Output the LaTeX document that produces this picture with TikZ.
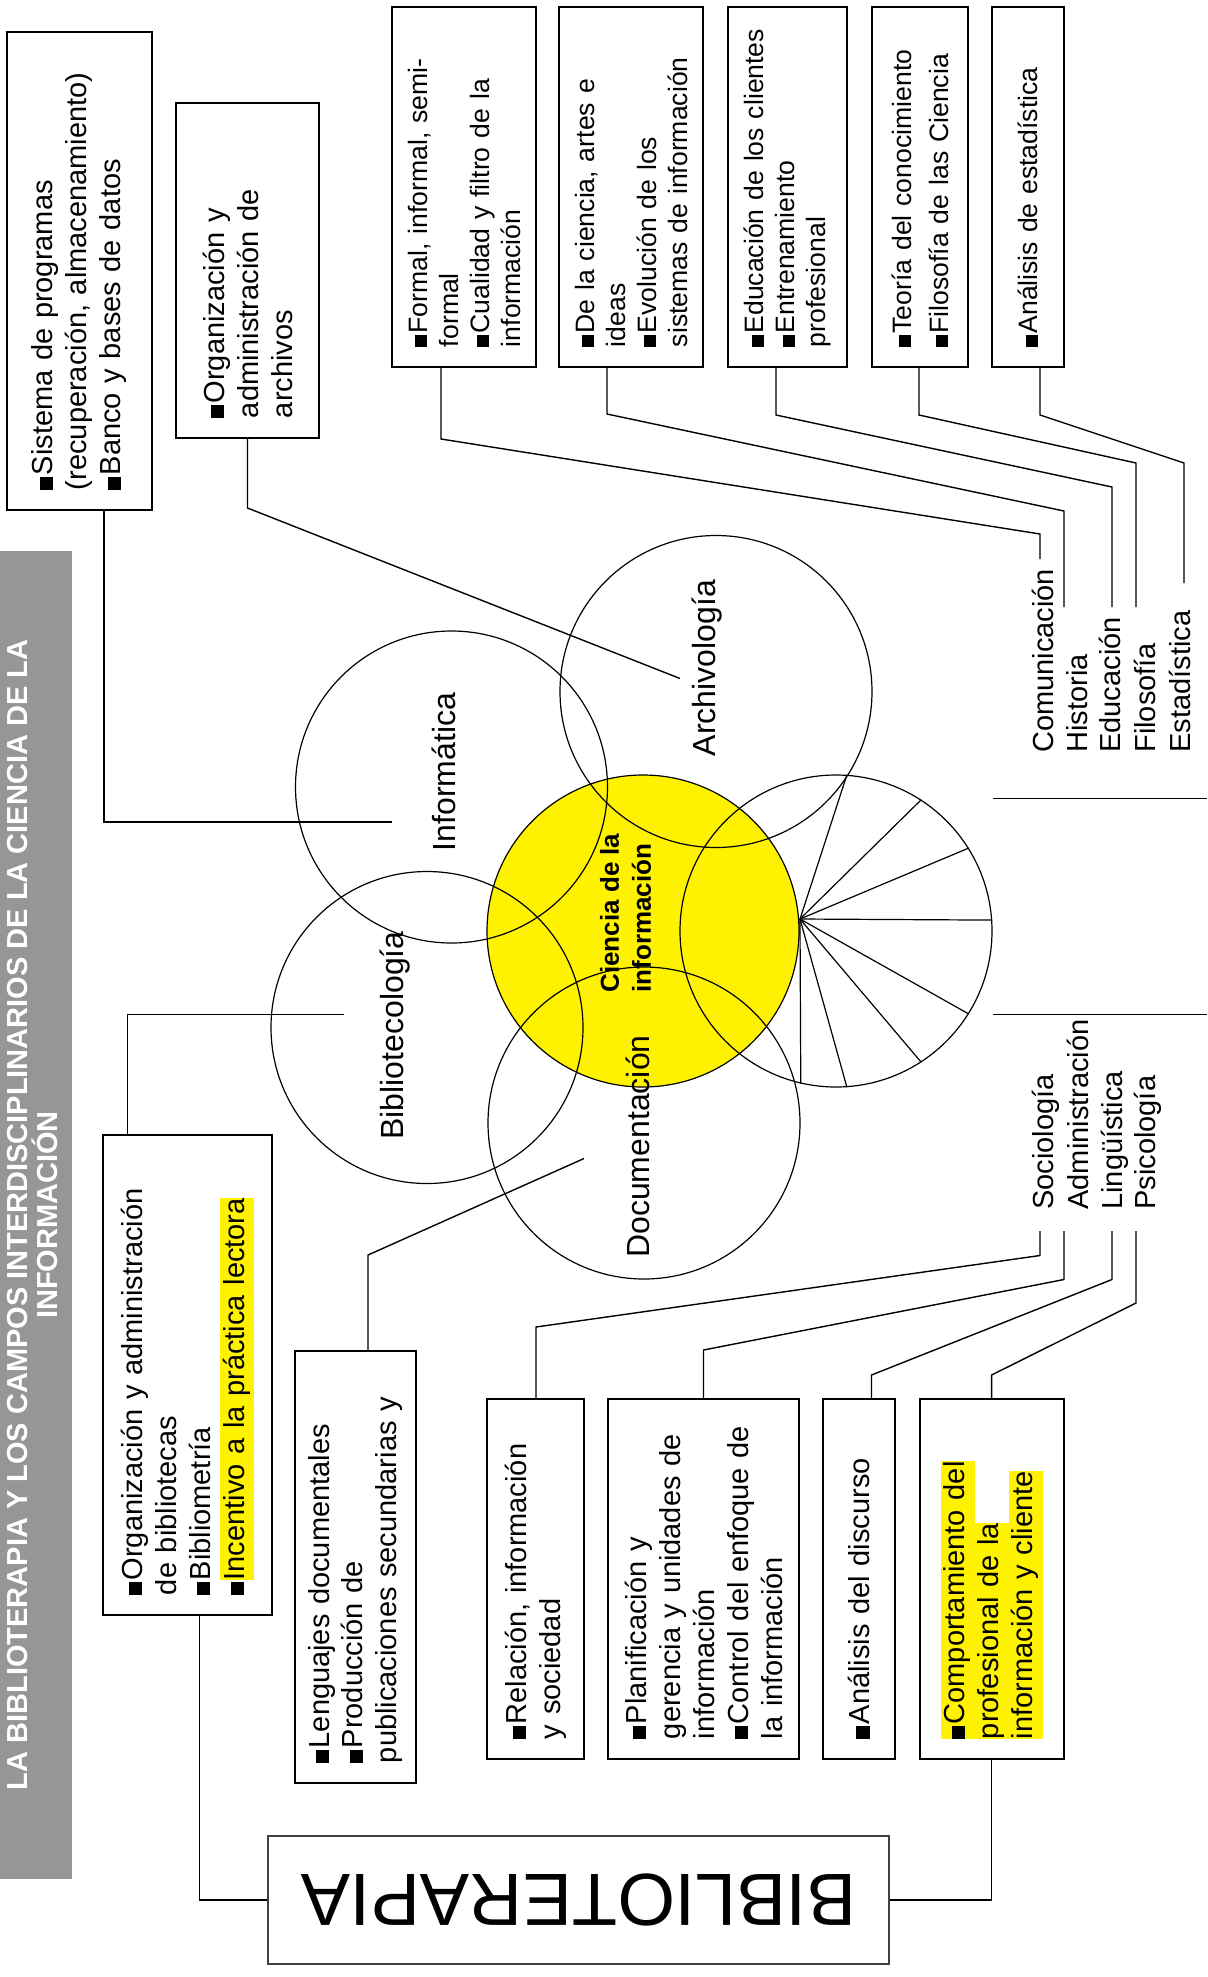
\documentclass[tikz,border=0pt]{standalone}
\usepackage{fontspec}
\setmainfont{Liberation Sans}
\usepackage{xcolor}
\usepackage{graphicx}
\usepackage{tikz}
\usetikzlibrary{positioning}
\definecolor{stripgray}{RGB}{150,150,150}
\newcommand\bul{\rule{0.45em}{0.45em}\hspace{0.06em}}
\newcommand\hl[1]{{\setlength{\fboxsep}{0pt}\colorbox{yellow}{\strut #1}}}
\tikzstyle{ring}=[circle,draw,line width=0.6pt,minimum size=156pt,inner sep=0pt]
\tikzstyle{link}=[draw,line width=0.7pt]
\tikzstyle{spoke}=[draw,line width=0.6pt]
\tikzstyle{field}=[rotate=90,anchor=base west,inner sep=0pt,font=\fontsize{14.5}{17}\selectfont]
\tikzstyle{ctext}=[rotate=90,inner sep=0pt,font=\fontsize{16}{19}\selectfont]
\tikzset{fbox/.style={draw,line width=0.9pt,rotate=90,align=left,inner xsep=10pt,inner ysep=0pt}}
\tikzset{topbox/.style={fbox,minimum width=180pt,text width=160pt,font=\fontsize{13.3}{15.5}\selectfont}}
\tikzset{sidebox/.style={fbox,font=\fontsize{14.5}{17}\selectfont}}
\tikzset{lowbox/.style={fbox,minimum width=180pt,text width=160pt,font=\fontsize{14.5}{17}\selectfont}}
\tikzset{therapy/.style={draw=black!75,line width=0.9pt,rotate=180,minimum width=310.5pt,minimum height=64pt,font=\fontsize{37}{40}\selectfont}}

\begin{document}
\begin{tikzpicture}[x=0.5pt,y=-0.5pt]
\useasboundingbox (0,0) rectangle (1207,1977);

%title strip
\fill[stripgray] (0,551) rectangle (72,1879);
\node[rotate=90,text=white,align=center,font=\bfseries\fontsize{14.5}{15}\selectfont] (title) at (33,1215)
  {LA BIBLIOTERAPIA Y LOS CAMPOS INTERDISCIPLINARIOS DE LA CIENCIA DE LA\\INFORMACIÓN};

%circles
\node[ring,fill=yellow] (sci) at (643,931) {};
\node[ring] (inf) at (451.5,787) {};
\node[ring] (arc) at (716,691.5) {};
\node[ring] (bib) at (427,1027.5) {};
\node[ring] (doc) at (644,1123) {};
\node[ring] (pie) at (836,931) {};

\coordinate (hub) at (800,919);
\foreach \a in {86,57.6,32.4,4.6,-32.4,-57.6,-86,-103}
  \draw[spoke] (hub) -- (pie.\a);

\node[ctext] (infl) at (444,772) {Informática};
\node[ctext] (arcl) at (707.5,668) {Archivología};
\node[ctext] (bibl) at (395.5,1035.5) {Bibliotecología};
\node[ctext] (docl) at (638,1146.5) {Documentación};
\node[rotate=90,inner sep=0pt,align=left,font=\bfseries\fontsize{13}{16}\selectfont] (scil) at (625.5,913) {Ciencia de la\\información};

%top boxes
\node[topbox,minimum height=72pt] (boxA) at (464,187) {\bul Formal, informal, semi-\\formal\\\bul Cualidad y filtro de la\\información};
\node[topbox,minimum height=72pt] (boxB) at (631,187) {\bul De la ciencia, artes e\\ideas\\\bul Evolución de los\\sistemas de información};
\node[topbox,minimum height=59.5pt] (boxC) at (787.5,187) {\bul Educación de los clientes\\\bul Entrenamiento\\profesional};
\node[topbox,minimum height=48pt,font=\fontsize{13.3}{18.5}\selectfont] (boxD) at (920,187) {\bul Teoría del conocimiento\\\bul Filosofía de las Ciencia};
\node[topbox,minimum height=36pt] (boxE) at (1028,187) {\bul Análisis de estadística};

%left boxes
\node[sidebox,minimum width=239pt,text width=219pt,minimum height=72.5pt] (boxSis) at (79.5,271) {\bul Sistema de programas\\(recuperación, almacenamiento)\\\bul Banco y bases de datos};
\node[sidebox,minimum width=167.5pt,text width=147.5pt,minimum height=71.5pt] (boxArc) at (247.5,270.5) {\bul Organización y\\administración de\\archivos};
\node[sidebox,minimum width=240pt,text width=220pt,minimum height=84.5pt] (boxBib) at (187.5,1375) {\bul Organización y administración\\de bibliotecas\\\bul Bibliometría\\\bul\hl{Incentivo a la práctica lectora}};
\node[sidebox,minimum width=216pt,text width=196pt,minimum height=60.5pt] (boxLen) at (355.5,1567) {\bul Lenguajes documentales\\\bul Producción de\\publicaciones secundarias y};

%bottom boxes
\node[lowbox,minimum height=48.5pt] (boxRel) at (535.5,1579) {\bul Relación, información\\y sociedad};
\node[lowbox,minimum height=95.5pt] (boxPla) at (703.5,1579) {\bul Planificación y\\gerencia y unidades de\\información\\\bul Control del enfoque de\\la información};
\node[lowbox,minimum height=36pt] (boxDis) at (859,1579) {\bul Análisis del discurso};
\node[lowbox,minimum height=72pt] (boxCom) at (992,1579) {\hl{\bul Comportamiento del}\\\hl{profesional de la}\\\hl{información y cliente}};

\node[therapy] (bt) at (578.5,1900) {BIBLIOTERAPIA};

%fields
\foreach \x/\name/\txt in {1053/com/Comunicación,1087/his/Historia,1120/edu/Educación,1155/fil/Filosofía,1190/est/Estadística}
  \node[field] (\name) at (\x,753) {\txt};
\foreach \x/\name/\txt in {1053/soc/Sociología,1088/adm/Administración,1122/lin/Lingüística,1155/psi/Psicología}
  \node[field] (\name) at (\x,1210) {\txt};

%free ends
\foreach \name/\x/\y in {comEnd/1040/559,hisEnd/1064/607,eduEnd/1112/607,filEnd/1136/607,estEnd/1184/583,
    socEnd/1040/1231,admEnd/1064/1231,linEnd/1112/1231,psiEnd/1136/1231,
    infEnd/392/822,arcEnd/680/678.5,bibEnd/343.5/1014.5,docEnd/584/1158.5,rimA/1207/798.5,rimB/1207/1014.5}
  \coordinate (\name) at (\x,\y);

%connectors
\foreach \src/\x/\y/\dst/\ty in {boxA/441/439/comEnd/534,boxB/607/414/hisEnd/511,boxC/776/415/eduEnd/487,boxD/919/415/filEnd/463,boxE/1040/415/estEnd/463}
  \draw[link] (\src.west -| \x,0) -- (\x,\y) -- (\dst |- 0,\ty) -- (\dst);
\foreach \src/\x/\y/\dst/\ty in {boxRel/536/1327/socEnd/1255.5,boxPla/703.5/1350/admEnd/1279.5,boxDis/871.5/1375/linEnd/1279.5,boxCom/991.6/1375/psiEnd/1303}
  \draw[link] (\src.east -| \x,0) -- (\x,\y) -- (\dst |- 0,\ty) -- (\dst);

\draw[link] (boxSis.west -| 104,0) |- (infEnd);
\draw[link] (boxArc.west) -- (247.5,508) -- (arcEnd);
\draw[link] (boxBib.east -| 127.5,0) |- (bibEnd);
\draw[link] (boxLen.east -| 368,0) -- (368,1255) -- (docEnd);
\draw[link] (pie.east |- rimA) -- (rimA);
\draw[link] (pie.east |- rimB) -- (rimB);

\draw[link] (boxBib.west -| 199.6,0) |- (bt);
\draw[link] (boxCom.west -| 991.6,0) |- (bt);

\end{tikzpicture}
\end{document}
